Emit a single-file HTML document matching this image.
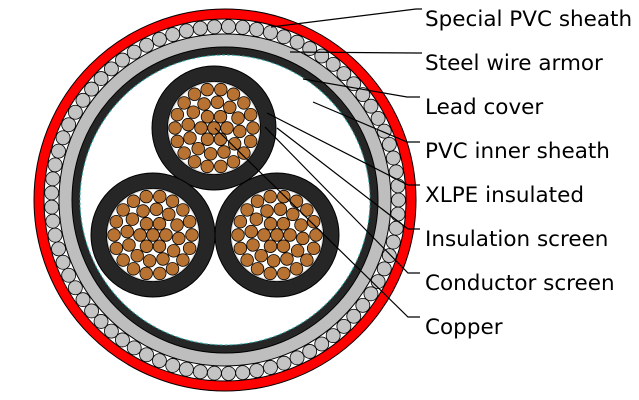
<!DOCTYPE html>
<html><head><meta charset="utf-8"><style>
html,body{margin:0;padding:0;background:#fff;}
svg{display:block;}
text{font-family:"DejaVu Sans","Liberation Sans",sans-serif;font-size:21.5px;fill:#000;}
</style></head><body>
<svg id="s" width="639" height="400" viewBox="0 0 639 400" xmlns="http://www.w3.org/2000/svg">
<circle cx="225" cy="200" r="191" fill="#ff0000" stroke="#000" stroke-width="1"/>
<circle cx="225" cy="200" r="181" fill="#fff" stroke="#000" stroke-width="1"/>
<g id="armor"></g>
<circle cx="225" cy="200" r="166" fill="#bebebe" stroke="#000" stroke-width="1"/>
<circle cx="225" cy="200" r="153" fill="#262626" stroke="#000" stroke-width="1"/>
<circle cx="225" cy="200" r="145" fill="#fff" stroke="#3aa" stroke-width="1" stroke-dasharray="3,2"/>
<g id="cores"></g>
<g stroke="#000" stroke-width="1.2" fill="none">
<polyline points="271,27 416,9 422,9"/>
<polyline points="290,52 416,53 422,53"/>
<polyline points="303,79 407,97 420,97"/>
<polyline points="313,102 407,142 420,142"/>
<polyline points="267,113 408,185 420,185"/>
<polyline points="277,128 408,229 420,229"/>
<polyline points="265,127 408,273 420,273"/>
<polyline points="215,128 408,317 420,317"/>
</g>
<text x="425" y="26">Special PVC sheath</text>
<text x="425" y="70">Steel wire armor</text>
<text x="425" y="114">Lead cover</text>
<text x="425" y="158">PVC inner sheath</text>
<text x="425" y="202">XLPE insulated</text>
<text x="425" y="246">Insulation screen</text>
<text x="425" y="290">Conductor screen</text>
<text x="425" y="334">Copper</text>
</svg>
<script>
var NS="http://www.w3.org/2000/svg";
function c(g,x,y,r,f,sw){var e=document.createElementNS(NS,"circle");e.setAttribute("cx",x);e.setAttribute("cy",y);e.setAttribute("r",r);e.setAttribute("fill",f);e.setAttribute("stroke","#000");e.setAttribute("stroke-width",sw);g.appendChild(e);}
var a=document.getElementById("armor");
var n=77;for(var i=0;i<n;i++){var t=i/n*2*Math.PI;c(a,225+173.5*Math.cos(t),200+173.5*Math.sin(t),7,"#c4c4c4",0.8);}
var g=document.getElementById("cores");
var cs=[[214,128],[153,235],[277,235]];
cs.forEach(function(p){
 c(g,p[0],p[1],62,"#262626",1);
 c(g,p[0],p[1],46.5,"#d8d8d8",0.8);
 c(g,p[0],p[1],45,"#fff",0);
 c(g,p[0],p[1],6.3,"#b87333",0.8);
 [[6,13],[12,26],[18,39]].forEach(function(rr){for(var k=0;k<rr[0];k++){var t=k/rr[0]*2*Math.PI+(rr[0]==12?0.13:0);c(g,p[0]+rr[1]*Math.cos(t),p[1]+rr[1]*Math.sin(t),6.3,"#b87333",0.8);}});
});
</script>
</body></html>
